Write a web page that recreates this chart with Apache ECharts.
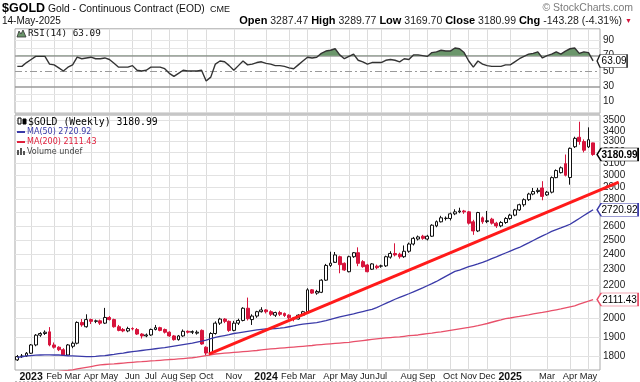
<!DOCTYPE html>
<html><head><meta charset="utf-8">
<script src="https://cdn.jsdelivr.net/npm/echarts@6/dist/echarts.min.js"></script>
<style>html,body{margin:0;padding:0;background:#fff}#c{width:640px;height:382px}</style>
</head><body><div id="c"></div>
<script>
// ---------- DATA ----------
const weeks = ['2022-12-19','2022-12-26',
'2023-01-02','2023-01-09','2023-01-16','2023-01-23','2023-01-30','2023-02-06','2023-02-13','2023-02-20','2023-02-27',
'2023-03-06','2023-03-13','2023-03-20','2023-03-27','2023-04-03','2023-04-10','2023-04-17','2023-04-24','2023-05-01',
'2023-05-08','2023-05-15','2023-05-22','2023-05-29','2023-06-05','2023-06-12','2023-06-19','2023-06-26','2023-07-03',
'2023-07-10','2023-07-17','2023-07-24','2023-07-31','2023-08-07','2023-08-14','2023-08-21','2023-08-28','2023-09-04',
'2023-09-11','2023-09-18','2023-09-25','2023-10-02','2023-10-09','2023-10-16','2023-10-23','2023-10-30','2023-11-06',
'2023-11-13','2023-11-20','2023-11-27','2023-12-04','2023-12-11','2023-12-18','2023-12-25',
'2024-01-01','2024-01-08','2024-01-15','2024-01-22','2024-01-29','2024-02-05','2024-02-12','2024-02-19','2024-02-26',
'2024-03-04','2024-03-11','2024-03-18','2024-03-25','2024-04-01','2024-04-08','2024-04-15','2024-04-22','2024-04-29',
'2024-05-06','2024-05-13','2024-05-20','2024-05-27','2024-06-03','2024-06-10','2024-06-17','2024-06-24','2024-07-01',
'2024-07-08','2024-07-15','2024-07-22','2024-07-29','2024-08-05','2024-08-12','2024-08-19','2024-08-26','2024-09-02',
'2024-09-09','2024-09-16','2024-09-23','2024-09-30','2024-10-07','2024-10-14','2024-10-21','2024-10-28','2024-11-04',
'2024-11-11','2024-11-18','2024-11-25','2024-12-02','2024-12-09','2024-12-16','2024-12-23','2024-12-30',
'2025-01-06','2025-01-13','2025-01-20','2025-01-27','2025-02-03','2025-02-10','2025-02-17','2025-02-24','2025-03-03',
'2025-03-10','2025-03-17','2025-03-24','2025-03-31','2025-04-07','2025-04-14','2025-04-21','2025-04-28','2025-05-05',
'2025-05-12','2025-05-19'];

const opens = [1780,1797,1800,1814,1857,1909,1918,1927,1857,1845,1832,1805,1850,1866,1979,1955,1995,1985,1988,1975,
2007,1995,1955,1940,1932,1945,1940,1915,1905,1910,1940,1950,1940,1925,1905,1885,1905,1930,1925,1920,
1935,1845,1815,1918,1975,1998,1985,1935,1975,1990,2060,1995,2015,2040,2050,2040,2020,2035,2030,2020,
2005,1998,2020,2040,2170,2150,2155,2230,2325,2345,2383,2339,2284,2383,2410,2350,2328,2300,2320,2320,
2322,2380,2405,2400,2383,2420,2470,2505,2525,2505,2525,2600,2630,2655,2655,2690,2705,2712,2705,2630,
2563,2660,2632,2650,2620,2600,2625,2655,2680,2720,2760,2800,2845,2865,2894,2838,2860,2980,3022,3100,
2981,3252,3340,3300,3250,3287.47];
const highs = [1805,1810,1820,1862,1915,1925,1935,1953,1870,1850,1840,1862,1875,1985,1998,2025,2000,1995,1995,2062,
2015,2000,1965,1948,1955,1952,1948,1920,1918,1945,1965,1955,1945,1930,1910,1910,1940,1935,1935,1935,
1940,1850,1925,1985,2005,2003,1990,1988,2000,2066,2123,2025,2045,2066,2055,2048,2040,2045,2035,2025,
2010,2025,2045,2180,2175,2170,2236,2335,2417,2415,2390,2345,2390,2415,2447,2360,2335,2340,2330,2330,
2390,2420,2475,2410,2460,2480,2520,2530,2535,2535,2612,2640,2675,2670,2700,2725,2737,2720,2712,2645,
2705,2670,2712,2660,2630,2635,2665,2690,2728,2768,2810,2855,2894,2895,2950,2870,2990,3050,3075,3181,
3245,3345,3490,3320,3435,3289.77];
const lows = [1775,1790,1795,1810,1850,1900,1910,1850,1838,1825,1800,1800,1840,1860,1955,1950,1970,1975,1965,1970,
1990,1950,1930,1925,1925,1935,1910,1891,1898,1905,1935,1930,1918,1900,1880,1880,1900,1918,1915,1912,
1858,1805,1812,1912,1965,1975,1927,1930,1965,1985,1990,1965,2005,2035,2030,2015,2010,2015,2010,1998,
1985,1995,2015,2035,2145,2140,2150,2225,2315,2350,2274,2290,2280,2375,2320,2310,2280,2295,2300,2310,
2315,2370,2385,2370,2375,2410,2460,2495,2500,2495,2520,2590,2625,2640,2640,2680,2695,2690,2610,2535,
2555,2615,2620,2610,2585,2590,2615,2645,2672,2712,2745,2790,2835,2850,2795,2830,2850,2975,3015,2990,
2921,3240,3270,3200,3240,3169.70];
const closes = [1797,1800,1814,1857,1909,1918,1925,1857,1845,1832,1805,1857,1866,1979,1965,1995,1985,1988,1975,2007,
1995,1955,1935,1932,1945,1943,1915,1905,1910,1940,1950,1935,1925,1905,1885,1905,1930,1925,1928,1925,
1862,1815,1918,1975,1998,1985,1935,1975,1990,2060,2000,2015,2040,2050,2040,2025,2035,2025,2018,2005,
1998,2020,2040,2170,2150,2160,2230,2325,2340,2395,2330,2295,2383,2410,2339,2317,2284,2335,2310,2322,
2383,2405,2395,2383,2420,2470,2510,2520,2510,2525,2605,2631,2660,2657,2690,2705,2712,2705,2620,2563,
2700,2630,2638,2620,2600,2625,2655,2680,2720,2760,2800,2845,2865,2875,2826,2860,2980,3040,3064,3000,
3237,3330,3300,3220,3317,3180.99];

const ma50 = [1793,1796,1800,1802,1804,1805,1806,1806,1805,1805,1803,1801,1800,1799,1798,1797,1797,1798,1800,1802,
1805,1808,1812,1815,1819,1822,1825,1828,1831,1834,1837,1840,1843,1847,1851,1855,1859,1863,1866,1872,
1877,1883,1890,1897,1902,1907,1912,1918,1922,1926,1930,1934,1938,1941,1943,1944,1945,1947,1950,1955,
1960,1965,1969,1972,1975,1978,1983,1989,1996,2003,2010,2016,2022,2028,2035,2041,2047,2053,2064,2076,
2088,2100,2113,2124,2135,2146,2158,2170,2182,2195,2208,2222,2238,2254,2270,2286,2295,2306,2317,2326,
2335,2345,2357,2370,2382,2395,2408,2421,2434,2446,2462,2478,2495,2511,2527,2543,2560,2573,2585,2598,
2612,2633,2655,2677,2699,2720.92];
const ma200 = [1700,1703,1706,1708,1711,1713,1716,1718,1721,1723,1726,1728,1731,1735,1739,1743,1747,1751,1755,1757,
1759,1760,1762,1764,1766,1768,1770,1771,1773,1775,1776,1778,1780,1782,1783,1785,1787,1789,1791,1794,
1798,1802,1806,1810,1812,1814,1816,1818,1820,1822,1824,1826,1828,1831,1834,1836,1838,1840,1842,1844,
1846,1848,1850,1852,1854,1857,1859,1861,1863,1865,1867,1869,1871,1874,1877,1880,1883,1886,1889,1892,
1894,1896,1898,1900,1903,1906,1908,1910,1914,1917,1920,1924,1927,1931,1935,1939,1943,1947,1951,1956,
1961,1967,1973,1980,1987,1993,2000,2004,2009,2013,2018,2022,2027,2032,2036,2041,2046,2051,2056,2062,
2068,2074,2084,2093,2102,2111.43];
const rsi = [56,56,61,65,69,69,69,59,58,54,50,55,58,68,66,67,68,66,66,67,
65,60,55,55,55,57,51,50,51,55,55,55,53,47,43,47,51,50,50,50,
51,37,42,59,63,62,57,51,57,63,58,59,61,62,60,59,57,57,56,54,
53,58,63,68,67,68,73,76,77,79,71,66,69,72,64,62,59,61,61,61,
64,65,64,62,66,65,71,71,70,69,74,75,77,76,76,80,79,74,63,55,
63,59,57,56,56,56,58,58,62,66,69,72,73,75,67,70,72,75,72,76,
79,80,73,75,74,63.09];

const priceTicks = [1800,1900,2000,2100,2200,2300,2400,2500,2600,2700,2800,2900,3000,3100,3200,3300,3400,3500];
const rsiTicks = [10,30,50,70,90];
const rsiFaint = [20,40,60,80];
const xTickWeeks = ['2023-01-09','2023-02-13','2023-03-13','2023-04-10','2023-05-08','2023-06-12','2023-07-10',
'2023-08-07','2023-09-04','2023-10-02','2023-11-13','2024-01-01','2024-02-05','2024-03-04','2024-04-08',
'2024-05-06','2024-06-03','2024-06-24','2024-08-05','2024-09-02','2024-10-07','2024-11-04','2024-12-02',
'2025-01-06','2025-03-03','2025-04-07','2025-05-05'];
const xTickTexts = ['2023','Feb','Mar','Apr','May','Jun','Jul','Aug','Sep','Oct','Nov','2024','Feb','Mar','Apr',
'May','Jun','Jul','Aug','Sep','Oct','Nov','Dec','2025','Mar','Apr','May'];
const trendline = [['2023-10-06',1809],['2025-06-20',2943]];
const header = {date:'14-May-2025', open:'3287.47', high:'3289.77', low:'3169.70', close:'3180.99', chg:'-143.28', pct:'-4.31%'};

// ---------- BUILD ----------
const N = opens.length;
const candle = opens.map((o,i)=>[o, closes[i], lows[i], highs[i]]);
const tickMap = {}; xTickWeeks.forEach((w,i)=>{tickMap[w]=xTickTexts[i];});
const isTick = (i, v) => tickMap[v] !== undefined;
const t0 = Date.parse(weeks[0]);
const weekPos = d => (Date.parse(d)-t0)/(7*86400000);
const trendData = trendline.map(([d,p]) => [weekPos(d), p]);
const FONT = 'Liberation Sans';
const MONO = 'DejaVu Sans Mono';
const RED = '#d7143c', BLUE = '#3a3aa8', MA2 = '#e8506a';
const PLOT_L = 15, PLOT_R = 40, CW = 640;
const plotW = CW - PLOT_L - PLOT_R;
const overlayMax = -0.5 + weeks.length * (CW - PLOT_L) / plotW;

function xAx(grid, showLabel){
  return {type:'category', gridIndex:grid, data:weeks, boundaryGap:true,
    axisLine:{show:false}, axisTick:{show:false},
    splitLine:{show:true, interval:isTick, alignWithLabel:true, lineStyle:{color:'#dcdcdc', width:1}},
    axisLabel: showLabel ? {show:true, interval:isTick, margin:2, fontSize:9.3, color:'#222', fontFamily:FONT,
      formatter:(v)=>{const t=tickMap[v]; if(t===undefined) return ''; return /^\d{4}$/.test(t)?'{y|'+t+'}':t;},
      rich:{y:{fontWeight:'bold', fontSize:10.5, color:'#111', fontFamily:FONT}}} : {show:false}};
}
const lblStyle = {show:true, position:'end', distance:3, color:'#222', fontSize:10, fontFamily:FONT};
function rsiLineStyle(v){
  if (v===70 || v===30) return {color:'#9a9a9a', width:1.6, type:'solid'};
  if (v===50) return {color:'#9a9a9a', width:1.2, type:[7,3,2,3]};
  return {color:'#e6e6e6', width:1, type:'solid'};
}
function tagPoint(coord, value, border, bold, w){
  return {silent:true, z:10, animation:false,
    symbol:'path://M0,6 L4,0 L40,0 L40,12 L4,12 Z', symbolSize:[w,13], symbolOffset:[w/2+4,0],
    itemStyle:{color:'#fff', borderColor:border, borderWidth:1},
    label:{show:true, position:'inside', offset:[2,0.5], color:'#000', fontSize:10, fontFamily:FONT,
      fontWeight: bold?'bold':'normal', formatter:()=>Number(value).toFixed(2)},
    data:[{coord:coord, value:value}]};
}

const option = {
  animation:false,
  textStyle:{fontFamily:FONT},
  grid:[
    {left:PLOT_L, right:PLOT_R, top:28.8, height:84.4, show:true, borderColor:'#aaaaaa', borderWidth:1, outerBoundsMode:'none', containLabel:false},
    {left:PLOT_L, right:PLOT_R, top:115, bottom:12, show:true, borderColor:'#aaaaaa', borderWidth:1, outerBoundsMode:'none', containLabel:false},
    {left:PLOT_L, right:0, top:115, bottom:12, show:false, outerBoundsMode:'none', containLabel:false}
  ],
  xAxis:[ xAx(0,false), xAx(1,true),
    {type:'value', gridIndex:2, min:-0.5, max:overlayMax, show:false} ],
  yAxis:[
    {type:'value', gridIndex:0, min:-5, max:105, position:'right', axisLabel:{show:false}, splitLine:{show:false}, axisLine:{show:false}, axisTick:{show:false}},
    {type:'log', logBase:10, gridIndex:1, min:1730, max:3557, position:'right', axisLabel:{show:false}, splitLine:{show:false}, axisLine:{show:false}, axisTick:{show:false}},
    {type:'log', logBase:10, gridIndex:2, min:1730, max:3557, show:false}
  ],
  visualMap:{type:'piecewise', show:false, seriesIndex:1, dimension:1,
    pieces:[{gt:70, lte:100, color:'#6b966b'},{gte:0, lte:70, color:'rgba(255,255,255,0)'}],
    outOfRange:{color:'rgba(255,255,255,0)'}},
  series:[
    {type:'line', xAxisIndex:0, yAxisIndex:0, data:[], silent:true, z:0,
      markLine:{silent:true, symbol:['none','none'], z:1, animation:false,
        data:[...rsiFaint.map(v=>({yAxis:v, lineStyle:rsiLineStyle(v), label:{show:false}})),
              ...rsiTicks.map(v=>({yAxis:v, lineStyle:rsiLineStyle(v), label:Object.assign({}, lblStyle, {formatter:String(v)})}))]}},
    {type:'line', xAxisIndex:0, yAxisIndex:0, data:rsi, symbol:'none', silent:true, z:2,
      lineStyle:{width:0, opacity:0}, areaStyle:{origin:70, opacity:1}},
    {type:'line', xAxisIndex:0, yAxisIndex:0, data:rsi, symbol:'none', silent:true, z:3,
      lineStyle:{color:'#333', width:1.4},
      markPoint:tagPoint([weeks[N-1], rsi[N-1]], rsi[N-1], '#222', false, 30)},
    {type:'line', xAxisIndex:1, yAxisIndex:1, data:[], silent:true, z:0,
      markLine:{silent:true, symbol:['none','none'], z:1, animation:false,
        data:priceTicks.map(v=>({yAxis:v, lineStyle:{color:'#e2e2e2', width:1, type:'solid'},
          label:Object.assign({}, lblStyle, {formatter:String(v)})}))}},
    {type:'candlestick', xAxisIndex:1, yAxisIndex:1, data:candle, barWidth:3.4, z:2, silent:true,
      itemStyle:{color:'#ffffff', color0:RED, borderColor:'#111', borderColor0:RED, borderWidth:1},
      markPoint:tagPoint([weeks[N-1], closes[N-1]], closes[N-1], '#000', true, 41)},
    {type:'line', xAxisIndex:1, yAxisIndex:1, data:ma200, symbol:'none', silent:true, z:3,
      lineStyle:{color:MA2, width:1.3},
      markPoint:tagPoint([weeks[N-1], ma200[N-1]], ma200[N-1], MA2, false, 41)},
    {type:'line', xAxisIndex:1, yAxisIndex:1, data:ma50, symbol:'none', silent:true, z:3,
      lineStyle:{color:BLUE, width:1.3},
      markPoint:tagPoint([weeks[N-1], ma50[N-1]], ma50[N-1], BLUE, false, 41)},
    {type:'line', xAxisIndex:2, yAxisIndex:2, data:trendData, symbol:'none', silent:true, z:4,
      lineStyle:{color:'#ff1a1a', width:3}}
  ],
  graphic:[
    {type:'text', x:2, y:9, style:{text:'$GOLD', fontFamily:FONT, fontWeight:'bold', fontSize:12.5, fill:'#000', verticalAlign:'middle'}},
    {type:'text', x:48, y:9.5, style:{text:'Gold - Continuous Contract (EOD)', fontFamily:FONT, fontSize:10.3, fill:'#111', verticalAlign:'middle'}},
    {type:'text', x:210, y:10, style:{text:'CME', fontFamily:FONT, fontSize:9, fill:'#111', verticalAlign:'middle'}},
    {type:'text', x:633, y:8, style:{text:'\u00A9 StockCharts.com', fontFamily:FONT, fontSize:10.5, fill:'#7a7a7a', align:'right', verticalAlign:'middle'}},
    {type:'text', x:2, y:21, style:{text:header.date, fontFamily:FONT, fontSize:10, fill:'#111', verticalAlign:'middle'}},
    {type:'text', x:622, y:21, style:{
      text:'{b|Open} '+header.open+' {b|High} '+header.high+' {b|Low} '+header.low+' {b|Close} '+header.close+' {b|Chg} '+header.chg+' ('+header.pct+')',
      fontFamily:FONT, fontSize:10.5, fill:'#222', align:'right', verticalAlign:'middle',
      rich:{b:{fontWeight:'bold', fontFamily:FONT, fontSize:11, fill:'#000'}}}},
    {type:'text', x:625, y:21, style:{text:'\u25BC', fontSize:7, fill:RED, verticalAlign:'middle'}},
    {type:'polygon', shape:{points:[[17,37],[19,31],[21,34],[23,30],[26,37]]}, style:{fill:'#6b966b', stroke:'#333', lineWidth:0.8}},
    {type:'text', x:28, y:33.5, style:{text:'RSI(14) '+rsi[N-1].toFixed(2), fontFamily:MONO, fontSize:9.3, fill:'#111', verticalAlign:'middle'}},
    {type:'rect', shape:{x:15, y:112.8, width:585, height:2.4}, style:{fill:'#c6c6c6'}},
    {type:'rect', shape:{x:18, y:118, width:3, height:6}, style:{fill:'#fff', stroke:'#000', lineWidth:1}},
    {type:'rect', shape:{x:23, y:119, width:3, height:5}, style:{fill:'#000', stroke:'#000', lineWidth:1}},
    {type:'text', x:28, y:122, style:{text:'$GOLD (Weekly) '+closes[N-1].toFixed(2), fontFamily:MONO, fontSize:9.8, fill:'#000', verticalAlign:'middle'}},
    {type:'line', shape:{x1:17, y1:132, x2:25, y2:132}, style:{stroke:BLUE, lineWidth:2}},
    {type:'text', x:27, y:132, style:{text:'MA(50) '+ma50[N-1].toFixed(2), fontFamily:'DejaVu Sans', fontSize:8, fill:BLUE, verticalAlign:'middle'}},
    {type:'line', shape:{x1:17, y1:142, x2:25, y2:142}, style:{stroke:'#e0203c', lineWidth:2}},
    {type:'text', x:27, y:142, style:{text:'MA(200) '+ma200[N-1].toFixed(2), fontFamily:'DejaVu Sans', fontSize:8, fill:'#e0203c', verticalAlign:'middle'}},
    {type:'rect', shape:{x:17, y:150, width:2, height:5}, style:{fill:'#555'}},
    {type:'rect', shape:{x:20, y:148, width:2, height:7}, style:{fill:'#555'}},
    {type:'rect', shape:{x:23, y:151, width:2, height:4}, style:{fill:'#555'}},
    {type:'text', x:27, y:152, style:{text:'Volume undef', fontFamily:'DejaVu Sans', fontSize:8, fill:'#444', verticalAlign:'middle'}},
    {type:'line', shape:{x1:15, y1:381.5, x2:600, y2:381.5}, style:{stroke:'#bbbbbb', lineWidth:1, lineDash:[2,2]}}
  ].map(g => Object.assign({z:100}, g))
};
const chart = echarts.init(document.getElementById('c'), null, {width:640, height:382});
chart.setOption(option);
</script></body></html>
